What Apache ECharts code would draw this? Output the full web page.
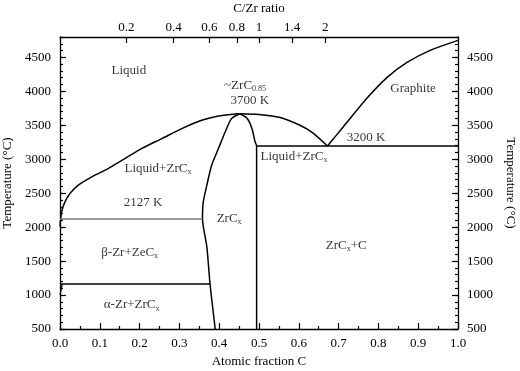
<!DOCTYPE html>
<html>
	<head>
		<meta charset="UTF-8">
		<title>Zr-C phase diagram</title>
		<style type="text/css">
			html,body{
				margin: 0;
				padding: 0;
				width: 100%;
				height: 100%;
				background: #fff;
			}
			#main{
				width: 520px;
				height: 371px;
			}
		</style>
	</head>
	<body>
		<div id="main"></div>
		<script src="https://cdn.jsdelivr.net/npm/echarts@6/dist/echarts.min.js"></script>
		<script>
			// phase boundaries, [atomic fraction C, temperature]
			var liquidusZr = [[0.0, 2010], [0.004, 2225], [0.0126, 2372], [0.025, 2495], [0.046, 2618],
				[0.080, 2740], [0.121, 2863], [0.163, 3010], [0.205, 3157], [0.256, 3304],
				[0.306, 3451], [0.356, 3574], [0.398, 3637], [0.444, 3668], [0.452, 3670]];
			var liquidusC = [[0.452, 3670], [0.50, 3660], [0.553, 3615], [0.603, 3500], [0.636, 3385], [0.672, 3195]];
			var graphiteLiquidus = [[0.672, 3195], [0.711, 3471], [0.771, 3897], [0.822, 4206],
				[0.872, 4426], [0.93, 4603], [1.0, 4750]];
			var zrcLeft = [[0.452, 3670], [0.431, 3598], [0.415, 3401], [0.398, 3157], [0.381, 2912],
				[0.369, 2618], [0.360, 2372], [0.358, 2128], [0.369, 1706], [0.377, 1162], [0.390, 500]];
			var zrcRight = [[0.452, 3670], [0.470, 3603], [0.482, 3456], [0.490, 3260], [0.494, 3195], [0.494, 500]];
			var eutecticC = [[0.494, 3195], [1.0, 3195]];
			var eutecticZr = [[0.0, 2120], [0.358, 2120]];
			var alphaBeta = [[0.0, 1162], [0.377, 1162]];
			var alphaSolvus = [[0.0, 1000], [0.006, 1162]];

			var phaseLabels = [
				{ text: 'Liquid', x: 0.173, t: 4309 },
				{ text: '~ZrC{s|0.85}', x: 0.465, t: 4090 },
				{ text: '3700 K', x: 0.477, t: 3868 },
				{ text: 'Graphite', x: 0.887, t: 4044 },
				{ text: '3200 K', x: 0.769, t: 3324 },
				{ text: 'Liquid+ZrC{s|x}', x: 0.588, t: 3044 },
				{ text: 'Liquid+ZrC{s|x}', x: 0.246, t: 2868 },
				{ text: '2127 K', x: 0.209, t: 2360 },
				{ text: 'ZrC{s|x}', x: 0.425, t: 2132 },
				{ text: 'β-Zr+ZeC{s|x}', x: 0.175, t: 1632 },
				{ text: 'α-Zr+ZrC{s|x}', x: 0.180, t: 853 },
				{ text: 'ZrC{s|x}+C', x: 0.719, t: 1735 }
			];

			var xTickLabels = ['0.0', '0.1', '0.2', '0.3', '0.4', '0.5', '0.6', '0.7', '0.8', '0.9', '1.0'];
			var ratioTicks = [0.2, 0.4, 0.6, 0.8, 1, 1.4, 2];
			var yTickLabels = [500, 1000, 1500, 2000, 2500, 3000, 3500, 4000, 4500];
			var yMinor = [];
			for (var v = 500; v <= 4800; v += 100) { yMinor.push(v); }

			var font = 'Liberation Serif';
			var ratioPos = ratioTicks.map(function (r) { return r / (1 + r); });

			function yAx(pos, minor) {
				var ax = {
					type: 'value', position: pos, min: 500, max: 4800,
					axisLine: { show: !minor, lineStyle: { color: '#000', width: 1.3 } },
					axisTick: { show: true, inside: true, length: minor ? 3 : 6,
						customValues: minor ? yMinor : yTickLabels, lineStyle: { color: '#000', width: 1.2 } },
					axisLabel: { show: !minor, customValues: yTickLabels, color: '#000', fontFamily: font, fontSize: 13, margin: 9,
						formatter: function (v) { return String(v); } },
					splitLine: { show: false }
				};
				if (!minor) {
					ax.name = 'Temperature (°C)';
					ax.nameLocation = 'middle';
					ax.nameGap = pos === 'left' ? 37 : 40;
					ax.nameRotate = pos === 'left' ? 90 : -90;
					ax.nameTextStyle = { color: '#000', fontFamily: font, fontSize: 13 };
				}
				return ax;
			}

			function boundary(data, color, width) {
				return {
					type: 'line', data: data, showSymbol: false, smooth: 0.25, silent: true,
					lineStyle: { color: color || '#000', width: width || 1.5 }
				};
			}

			var myChart = echarts.init(document.getElementById('main'));
			myChart.setOption({
				backgroundColor: '#fff',
				animation: false,
				grid: { left: 60, right: 62, top: 37, bottom: 42, containLabel: false, outerBoundsMode: 'none' },
				xAxis: [
					{
						type: 'value', position: 'bottom', min: 0, max: 1, interval: 0.1,
						name: 'Atomic fraction C', nameLocation: 'middle', nameGap: 25,
						nameTextStyle: { color: '#000', fontFamily: font, fontSize: 13 },
						axisLine: { lineStyle: { color: '#000', width: 1.3 } },
						axisTick: { inside: true, length: 6, lineStyle: { color: '#000', width: 1.2 } },
						minorTick: { show: true, splitNumber: 2, length: 3, lineStyle: { color: '#000', width: 1.2 } },
						axisLabel: { color: '#000', fontFamily: font, fontSize: 13, margin: 8,
							formatter: function (v) { return xTickLabels[Math.round(v * 10)]; } },
						splitLine: { show: false }
					},
					{
						type: 'value', position: 'top', min: 0, max: 1,
						name: 'C/Zr ratio', nameLocation: 'middle', nameGap: 22,
						nameTextStyle: { color: '#000', fontFamily: font, fontSize: 13 },
						axisLine: { lineStyle: { color: '#000', width: 1.3 } },
						axisTick: { inside: true, length: 6, customValues: ratioPos, lineStyle: { color: '#000', width: 1.2 } },
						axisLabel: { color: '#000', fontFamily: font, fontSize: 13, margin: 3, customValues: ratioPos,
							formatter: function (v) { return String(parseFloat((v / (1 - v)).toFixed(1))); } },
						splitLine: { show: false }
					}
				],
				yAxis: [yAx('left', false), yAx('left', true), yAx('right', false), yAx('right', true)],
				series: [
					boundary(liquidusZr),
					boundary(liquidusC),
					boundary(graphiteLiquidus),
					boundary(zrcLeft),
					boundary(zrcRight),
					boundary(eutecticC),
					boundary(eutecticZr, '#777', 1.3),
					boundary(alphaBeta),
					boundary(alphaSolvus, '#000', 1.2),
					{
						type: 'scatter', symbolSize: 0, silent: true,
						data: phaseLabels.map(function (d) { return { value: [d.x, d.t], name: d.text }; }),
						label: {
							show: true, position: 'inside', color: '#000',
							fontFamily: font, fontSize: 13,
							formatter: function (p) { return p.name; },
							rich: {
								s: { fontFamily: font, fontSize: 8, color: '#000', padding: [8, 0, 0, 0] }
							}
						}
					}
				]
			});
		</script>
	</body>
</html>
